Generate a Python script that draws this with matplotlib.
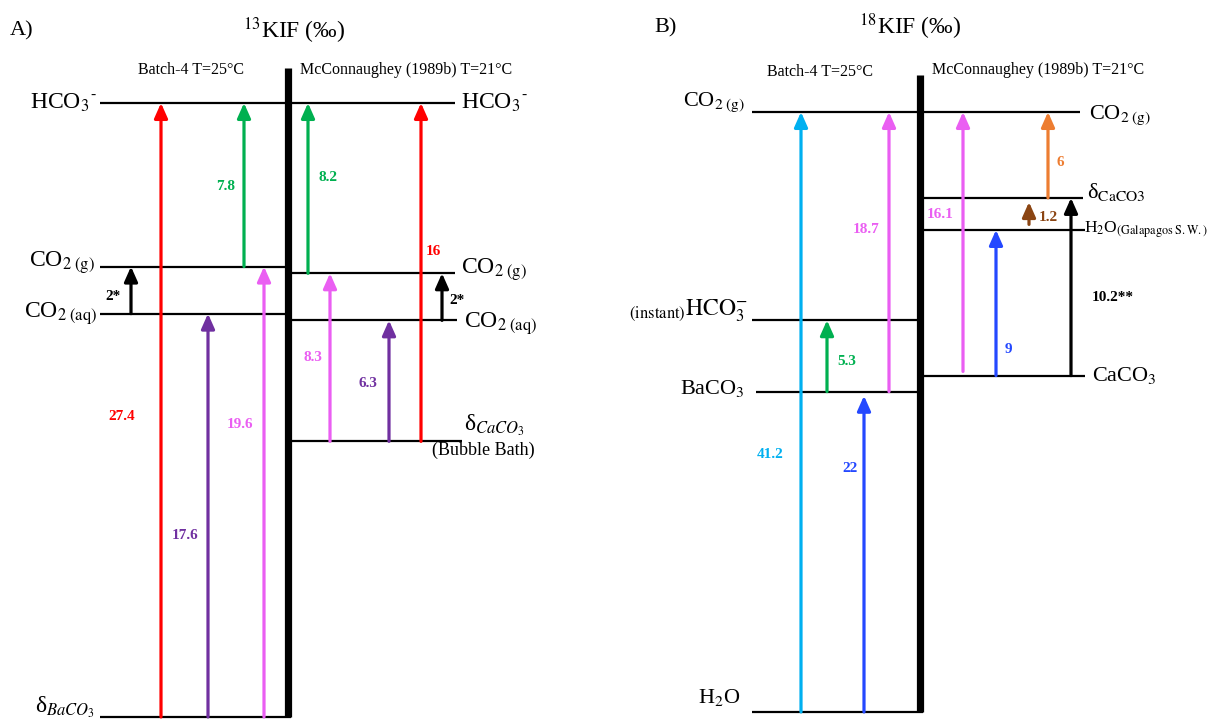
import matplotlib.pyplot as plt

plt.rcParams['font.family'] = 'Liberation Serif'
plt.rcParams['mathtext.fontset'] = 'stix'

# ---- A) 13KIF : level heights in permil above the BaCO3 base ----
a_level_names = ['BaCO3', 'CO2aq_L', 'CO2g_L', 'HCO3', 'CaCO3', 'CO2aq_R', 'CO2g_R']
a_level_vals = [0.0, 18.0, 20.1, 27.4, 12.3, 17.7, 19.8]
a_arrow_from = ['BaCO3', 'BaCO3', 'BaCO3', 'CO2g_L', 'CO2aq_L',
                'CO2g_R', 'CaCO3', 'CaCO3', 'CaCO3', 'CO2aq_R']
a_arrow_to = ['HCO3', 'CO2aq_L', 'CO2g_L', 'HCO3', 'CO2g_L',
              'HCO3', 'CO2g_R', 'CO2aq_R', 'HCO3', 'CO2g_R']
a_arrow_labels = ['27.4', '17.6', '19.6', '7.8', '2*', '8.2', '8.3', '6.3', '16', '2*']

# ---- B) 18KIF : level heights in permil above H2O ----
b_level_names = ['H2O', 'BaCO3', 'HCO3i', 'CO2g', 'CaCO3', 'H2O_gal', 'dCaCO3']
b_level_vals = [0.0, 22.0, 26.9, 41.2, 23.1, 33.1, 35.3]
b_arrow_from = ['H2O', 'H2O', 'BaCO3', 'BaCO3', 'CaCO3', 'CaCO3', 'H2O_gal', 'dCaCO3', 'CaCO3']
b_arrow_to = ['CO2g', 'BaCO3', 'HCO3i', 'CO2g', 'CO2g', 'H2O_gal', 'dCaCO3', 'CO2g', 'dCaCO3']
b_arrow_labels = ['41.2', '22', '5.3', '18.7', '16.1', '9', '1.2', '6', '10.2**']

# colours
RED, GREEN, PINK, PURPLE = '#FF0000', '#00B050', '#EA5EF2', '#7030A0'
CYAN, BLUE, ORANGE, BROWN = '#00B0F0', '#2448FF', '#ED7D31', '#8B4513'

# layout (x in pixels across the figure)
a_arrow_x = [161, 208, 264, 244, 131, 308, 330, 389, 421, 442]
a_arrow_colors = [RED, PURPLE, PINK, GREEN, 'black', GREEN, PINK, PURPLE, RED, 'black']
a_label_dx = [-39, -23, -24, -18, -18, 20, -17, -21, 12, 15]
a_label_frac = [0.49, 0.45, 0.65, 0.49, 0.37, 0.56, 0.5, 0.48, 0.56, 0.43]
a_shrink = [(0, 0)] * 10

b_arrow_x = [801, 864, 827, 889, 963, 996, 1029, 1048, 1071]
b_arrow_colors = [CYAN, BLUE, GREEN, PINK, PINK, BLUE, BROWN, ORANGE, 'black']
b_label_dx = [-31, -14, 20, -23, -23, 12, 19, 12, 42]
b_label_frac = [0.43, 0.76, 0.42, 0.58, 0.61, 0.18, 0.4, 0.41, 0.44]
b_shrink = [(0, 0), (0, 3), (0, 0), (0, 0), (3, 0), (0, 0), (4, 3), (0, 0), (0, 0)]

a_spans = {'BaCO3': (100, 291), 'CO2aq_L': (100, 288), 'CO2g_L': (100, 288),
           'HCO3': (100, 455), 'CaCO3': (291, 462), 'CO2aq_R': (291, 457),
           'CO2g_R': (291, 455)}
b_spans = {'H2O': (752, 923), 'BaCO3': (756, 918), 'HCO3i': (752, 918),
           'CO2g': (752, 1080), 'CaCO3': (923, 1085), 'H2O_gal': (920, 1085),
           'dCaCO3': (920, 1083)}

# species labels: level, text, x, ha, dy (px), size
a_species = [
    ('HCO3', r'HCO$_3{}^{\text{-}}$', 97, 'right', 0, 17),
    ('CO2g_L', r'CO$_{2\ \mathrm{(g)}}$', 95, 'right', 4, 17),
    ('CO2aq_L', r'CO$_{2\ \mathrm{(aq)}}$', 97, 'right', 0, 17),
    ('BaCO3', r'δ$_{BaCO_3}$', 95, 'right', 10, 17),
    ('HCO3', r'HCO$_3{}^{\text{-}}$', 461, 'left', 0, 17),
    ('CO2g_R', r'CO$_{2\ \mathrm{(g)}}$', 461, 'left', 4, 17),
    ('CO2aq_R', r'CO$_{2\ \mathrm{(aq)}}$', 464, 'left', -3, 17),
    ('CaCO3', r'δ$_{CaCO_3}$', 464, 'left', 16, 17),
    ('CaCO3', '(Bubble Bath)', 432, 'left', -9, 13),
]
b_species = [
    ('CO2g', r'CO$_{2\ \mathrm{(g)}}$', 745, 'right', 10, 16),
    ('HCO3i', r'$\mathrm{{}_{(instant)}HCO_3^{-}}$', 748, 'right', 9, 17),
    ('BaCO3', r'BaCO$_3$', 745, 'right', 3, 16),
    ('H2O', r'H$_2$O', 740, 'right', 14, 16),
    ('CO2g', r'CO$_{2\ \mathrm{(g)}}$', 1089, 'left', -3, 16),
    ('dCaCO3', r'δ$_{\mathrm{CaCO3}}$', 1087, 'left', 6, 16),
    ('H2O_gal', r'H$_2$O$_{\mathrm{(Galapagos\ S.W.)}}$', 1084, 'left', 0, 12.5),
    ('CaCO3', r'CaCO$_3$', 1092, 'left', 0, 16),
]

W, H = 1215, 721
fig = plt.figure(figsize=(W / 100, H / 100), dpi=100)


def draw_panel(ax, names, vals, spans, bar_x, bar_top, arr_from, arr_to, labels,
               arr_x, colors, dx, frac, shrink, species):
    lv = dict(zip(names, vals))
    for n in names:
        x0, x1 = spans[n]
        ax.plot([x0, x1], [lv[n], lv[n]], color='black', lw=1.6, zorder=2,
                solid_capstyle='butt')
    ax.plot([bar_x, bar_x], [min(vals), bar_top], color='black', lw=5.2, zorder=3,
            solid_capstyle='butt')
    for f, t, lab, x, c, d, fr, (sa, sb) in zip(arr_from, arr_to, labels, arr_x,
                                                  colors, dx, frac, shrink):
        y0, y1 = lv[f], lv[t]
        ax.annotate('', xy=(x, y1), xytext=(x, y0),
                    arrowprops=dict(arrowstyle='-|>,head_length=0.45,head_width=0.2',
                                    color=c, lw=2.3, shrinkA=sa, shrinkB=sb,
                                    mutation_scale=20), zorder=4)
        ax.text(x + d, y0 + fr * (y1 - y0), lab, color=c, fontsize=11,
                fontweight='bold', ha='center', va='center', zorder=5)
    for n, txt, x, ha, dy, sz in species:
        ax.annotate(txt, xy=(x, lv[n]), xytext=(0, dy * 0.72),
                    textcoords='offset points', ha=ha, va='center', fontsize=sz)


# panel A: 0 permil at py=717, 27.4 at py=103
ka = (717 - 103) / 27.4
ax_a = fig.add_axes([0, 0, 0.5, 1])
ax_a.set_xlim(0, W / 2)
ax_a.set_ylim((717 - H) / ka, 717 / ka)
ax_a.axis('off')
draw_panel(ax_a, a_level_names, a_level_vals, a_spans, 288, (717 - 68) / ka,
           a_arrow_from, a_arrow_to, a_arrow_labels, a_arrow_x, a_arrow_colors,
           a_label_dx, a_label_frac, a_shrink, a_species)

# panel B: 0 permil at py=712, 41.2 at py=112
kb = (712 - 112) / 41.2
ax_b = fig.add_axes([0.5, 0, 0.5, 1])
ax_b.set_xlim(W / 2, W)
ax_b.set_ylim((712 - H) / kb, 712 / kb)
ax_b.axis('off')
draw_panel(ax_b, b_level_names, b_level_vals, b_spans, 920, (712 - 75) / kb,
           b_arrow_from, b_arrow_to, b_arrow_labels, b_arrow_x, b_arrow_colors,
           b_label_dx, b_label_frac, b_shrink, b_species)


# titles and headers
def ftext(x, y, s, **kw):
    fig.text(x / W, 1 - y / H, s, va='center', **kw)


ftext(10, 31, 'A)', fontsize=16)
ftext(294, 31, r'$^{13}$KIF (‰)', fontsize=17, ha='center')
ftext(138, 70, 'Batch-4 T=25°C', fontsize=11.5)
ftext(300, 70, 'McConnaughey (1989b) T=21°C', fontsize=11.5)
ftext(654, 28, 'B)', fontsize=16)
ftext(910, 27, r'$^{18}$KIF (‰)', fontsize=17, ha='center')
ftext(767, 72, 'Batch-4 T=25°C', fontsize=11.5)
ftext(932, 70, 'McConnaughey (1989b) T=21°C', fontsize=11.5)

fig.savefig('out.png', dpi=100, facecolor='white')
